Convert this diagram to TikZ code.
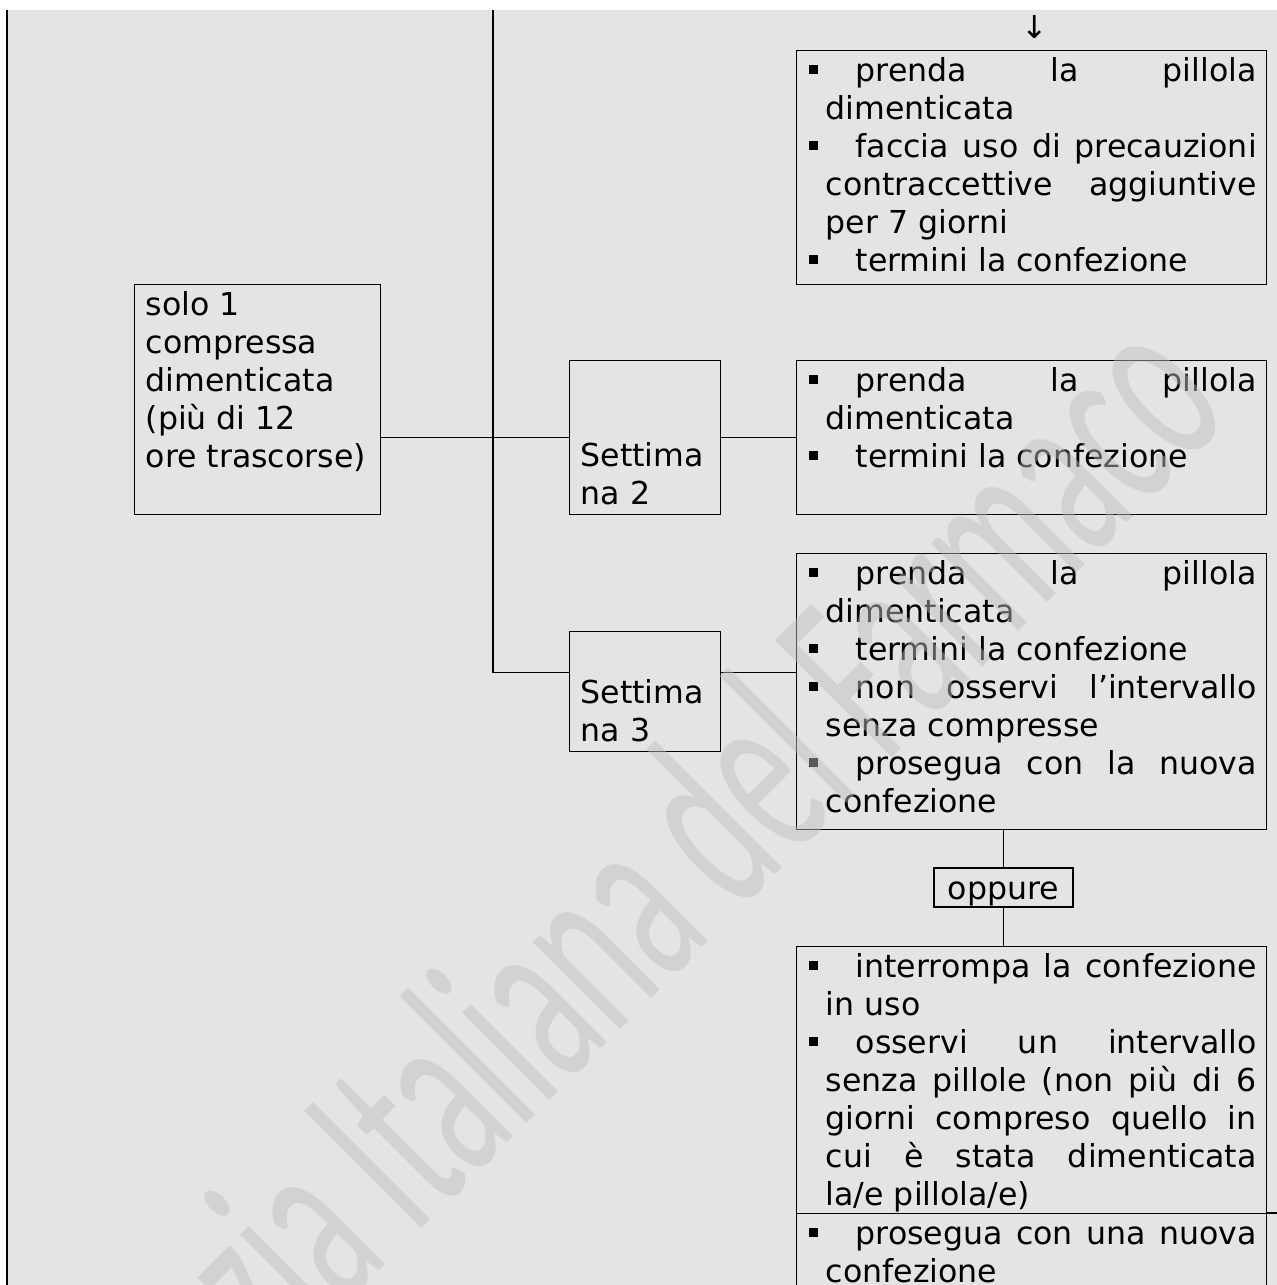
\documentclass[tikz,border=0pt]{standalone}
\usepackage{fontspec}
\setmainfont{DejaVu Sans}
\newfontfamily\wmfont{Carlito}
\usetikzlibrary{calc}

\definecolor{sfondo}{RGB}{228,228,228}
\definecolor{filig}{RGB}{190,190,190}

\newcommand{\voce}{\par\noindent\hspace*{-8.5pt}\makebox[23.5pt][l]{\rule[3.9pt]{4.4pt}{4.4pt}}}
\newcommand{\su}{\rule{0pt}{15.4pt}}
\newcommand{\cella}[3]{\parbox[c][#2][t]{#1}{\leftskip=14.5pt\rightskip=5pt\parindent=0pt\tolerance=10000\hyphenpenalty=10000 #3}}

\begin{document}
\begin{tikzpicture}[x=0.5pt,y=-0.5pt,
   font=\fontsize{15.8pt}{19pt}\selectfont,
   casella/.style={draw,line width=0.7pt,inner sep=0pt,anchor=north west},
   linea/.style={line width=0.7pt},
   filigrana/.style={anchor=base west,rotate=45,inner sep=0pt,text=filig,text opacity=0.47,
      font=\wmfont\fontsize{129pt}{129pt}\selectfont}]
\useasboundingbox (0,0) rectangle (1277,1285);
\clip (0,0) rectangle (1277,1285);
\fill[sfondo] (8,10) rectangle (1277,1285);
\draw[line width=1pt] (7,10) -- (7,1285);

\node[casella] (solo) at (134,284) {\parbox[c][115pt][t]{123pt}{\leftskip=5.5pt\su solo 1\\compressa\\dimenticata\\(più di 12\\ore trascorse)}};
\node[casella] (sett2) at (569,360) {\parbox[c][77pt][b]{75.5pt}{\leftskip=5.5pt Settima\\na 2\par\vspace{5pt}}};
\node[casella] (sett3) at (569,631) {\parbox[c][60pt][b]{75.5pt}{\leftskip=5.5pt Settima\\na 3\par\vspace{5pt}}};

\node (freccia) at (1035,27) {↓};
\node[casella] (cons1) at (796,50) {\cella{235pt}{117pt}{\voce\su prenda la pillola\linebreak dimenticata
   \voce faccia uso di precauzioni\linebreak contraccettive aggiuntive\linebreak per 7 giorni
   \voce termini la confezione}};
\node[casella] (cons2) at (796,360) {\cella{235pt}{77pt}{\voce\su prenda la pillola\linebreak dimenticata
   \voce termini la confezione}};
\node[casella] (cons3) at (796,553) {\cella{235pt}{138pt}{\voce\su prenda la pillola\linebreak dimenticata
   \voce termini la confezione
   \voce non osservi l’intervallo\linebreak senza compresse
   \voce prosegua con la nuova\linebreak confezione}};
\node[draw,line width=0.7pt,inner sep=0pt,minimum width=69.5pt,text height=15.5pt,text depth=4pt] (oppure) at (1003.5,887.5) {oppure};
\node[casella] (cons4) at (796,946) {\cella{235pt}{133.5pt}{\voce\su interrompa la confezione\linebreak in uso
   \voce osservi un intervallo\linebreak senza pillole (non più di 6\linebreak giorni compreso quello in\linebreak cui è stata dimenticata\linebreak la/e pillola/e)}};
\node[casella] (cons5) at (796,1213) {\cella{235pt}{50pt}{\voce\su prosegua con una nuova\linebreak confezione}};

\coordinate (cima) at (493,10);
\coordinate (bordo) at (1277,1213);
\draw[linea] (solo.east |- sett2.west) -- (sett2.west);
\draw[linea] (sett2.east) -- (cons2.west);
\draw[linea] (cima) |- ([yshift=9.5pt]sett3.west);
\draw[linea] ([yshift=9.5pt]sett3.east) -- ([yshift=9.5pt]sett3.east -| cons3.west);
\draw[linea] (oppure.north) -- (oppure.north |- cons3.south);
\draw[linea] (oppure.south) -- (oppure.south |- cons4.north);
\draw[linea] (cons5.north east) -- (bordo);

\node[filigrana] (marchio) at (73,1577) {\scalebox{0.55}[1]{Agenzia Italiana del Farmaco}};
\end{tikzpicture}
\end{document}
